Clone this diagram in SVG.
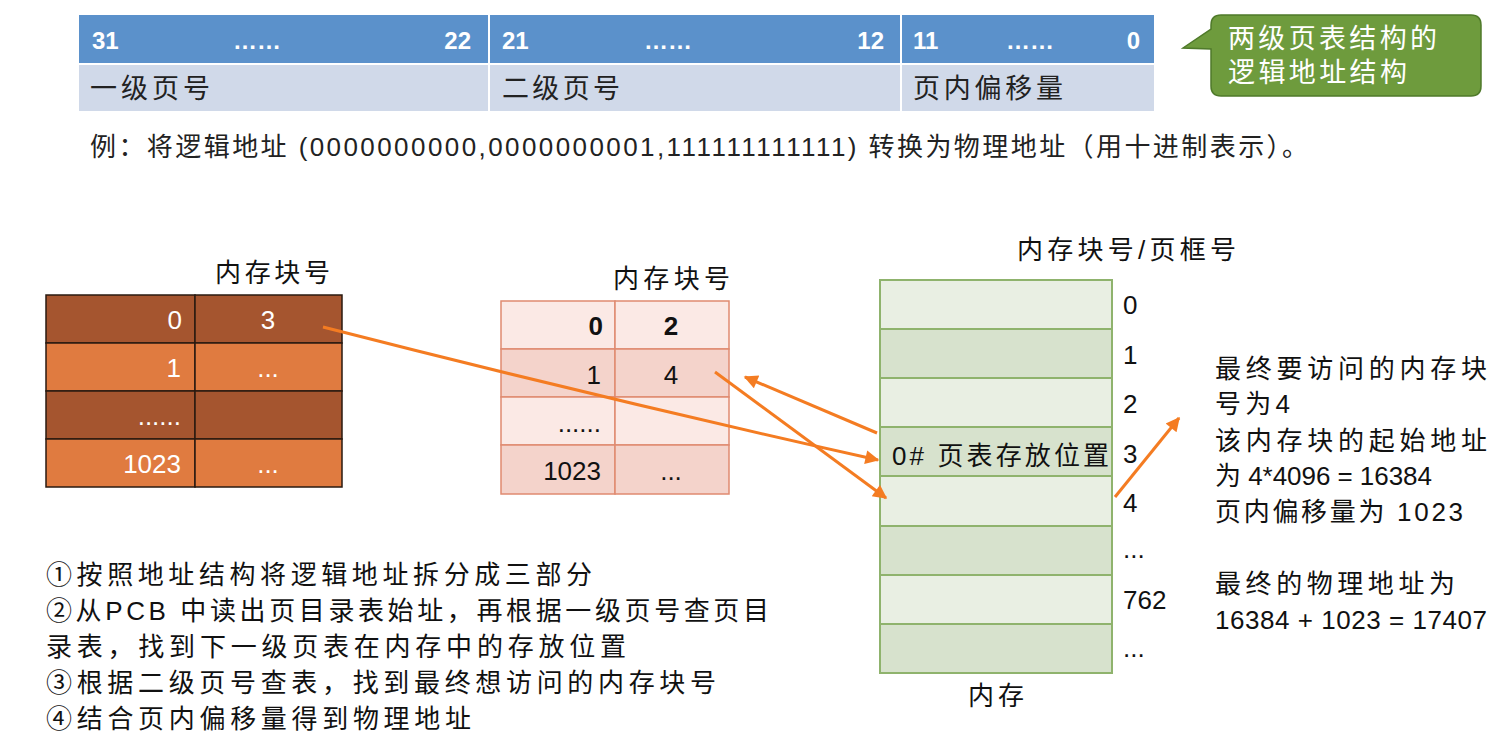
<svg xmlns="http://www.w3.org/2000/svg" width="1505" height="748" viewBox="0 0 1505 748">
<defs>
<style>
text{font-family:"Liberation Sans","Noto Sans CJK SC",sans-serif;fill:#222;}
.t26{font-size:26px;}
.t28{font-size:27px;}
.hd{font-size:24px;font-weight:bold;fill:#fff;}
.wt{font-size:26px;fill:#fff;}
.bk{font-size:26px;fill:#111;}
.bb{font-size:26px;fill:#111;font-weight:bold;}
.lab{font-size:26px;fill:#111;}
.conn{stroke:#f47c22;stroke-width:3;fill:none;}
.ld{fill:#a5552f;stroke:#2a1a10;stroke-width:1.5;}
.ll{fill:#e07b40;stroke:#2a1a10;stroke-width:1.5;}
.md{fill:#f4d3cb;stroke:#e08a70;stroke-width:1.5;}
.ml{fill:#fbe9e5;stroke:#e08a70;stroke-width:1.5;}
.gd{fill:#d7e2cd;stroke:#8fb36d;stroke-width:2;}
.gl{fill:#e9efe3;stroke:#8fb36d;stroke-width:2;}
</style>
<marker id="ah" viewBox="0 0 10 10" refX="9" refY="5" markerWidth="16" markerHeight="14" markerUnits="userSpaceOnUse" orient="auto">
<path d="M0,0 L10,5 L0,10 Z" fill="#f47c22"/>
</marker>
</defs>
<rect width="1505" height="748" fill="#fff"/>

<g id="addr-struct">
<rect x="79" y="15" width="409" height="48" fill="#5b91cb"/>
<rect x="490" y="15" width="410" height="48" fill="#5b91cb"/>
<rect x="902" y="15" width="252" height="48" fill="#5b91cb"/>
<rect x="79" y="65" width="409" height="46" fill="#d0d9e9"/>
<rect x="490" y="65" width="410" height="46" fill="#d0d9e9"/>
<rect x="902" y="65" width="252" height="46" fill="#d0d9e9"/>
<text class="hd" x="92" y="49">31</text>
<text class="hd" x="233" y="49">……</text>
<text class="hd" x="471" y="49" text-anchor="end">22</text>
<text class="hd" x="502" y="49">21</text>
<text class="hd" x="644" y="49">……</text>
<text class="hd" x="884" y="49" text-anchor="end">12</text>
<text class="hd" x="913" y="49">11</text>
<text class="hd" x="1006" y="49">……</text>
<text class="hd" x="1140" y="49" text-anchor="end">0</text>
<text class="t28" x="90" y="98" textLength="120">一级页号</text>
<text class="t28" x="502" y="98" textLength="118">二级页号</text>
<text class="t28" x="913" y="98" textLength="150">页内偏移量</text>
</g>

<g id="callout">
<path d="M1221,15 H1471 Q1481,15 1481,25 V86 Q1481,96 1471,96 H1221 Q1211,96 1211,86 V49 L1183,48 L1211,29 V25 Q1211,15 1221,15 Z" fill="#6e9b3d" stroke="#4f7a2a" stroke-width="1.5"/>
<text class="t28" x="1228" y="48" textLength="209" style="fill:#fff">两级页表结构的</text>
<text class="t28" x="1228" y="82" textLength="179" style="fill:#fff">逻辑地址结构</text>
</g>

<g id="example">
<text class="t26" x="90" y="156" textLength="1218">例：将逻辑地址 (0000000000,0000000001,111111111111) 转换为物理地址（用十进制表示）。</text>
</g>

<g id="page-dir">
<text class="lab" x="215" y="282" textLength="115">内存块号</text>
<rect class="ld" x="46" y="295" width="149" height="48"/>
<rect class="ld" x="195" y="295" width="147" height="48"/>
<rect class="ll" x="46" y="343" width="149" height="48"/>
<rect class="ll" x="195" y="343" width="147" height="48"/>
<rect class="ld" x="46" y="391" width="149" height="48"/>
<rect class="ld" x="195" y="391" width="147" height="48"/>
<rect class="ll" x="46" y="439" width="149" height="48"/>
<rect class="ll" x="195" y="439" width="147" height="48"/>
<text class="wt" x="182" y="329" text-anchor="end">0</text>
<text class="wt" x="268" y="329" text-anchor="middle">3</text>
<text class="wt" x="181" y="377" text-anchor="end">1</text>
<text class="wt" x="268" y="377" text-anchor="middle">...</text>
<text class="wt" x="181" y="425" text-anchor="end">......</text>
<text class="wt" x="181" y="473" text-anchor="end">1023</text>
<text class="wt" x="268" y="473" text-anchor="middle">...</text>
</g>

<g id="page-table">
<text class="lab" x="613" y="288" textLength="117">内存块号</text>
<rect class="ml" x="501" y="301" width="114" height="48"/>
<rect class="ml" x="615" y="301" width="114" height="48"/>
<rect class="md" x="501" y="349" width="114" height="48"/>
<rect class="md" x="615" y="349" width="114" height="48"/>
<rect class="ml" x="501" y="397" width="114" height="48"/>
<rect class="ml" x="615" y="397" width="114" height="48"/>
<rect class="md" x="501" y="445" width="114" height="49"/>
<rect class="md" x="615" y="445" width="114" height="49"/>
<text class="bb" x="603" y="335" text-anchor="end">0</text>
<text class="bb" x="671" y="335" text-anchor="middle">2</text>
<text class="bk" x="601" y="384" text-anchor="end">1</text>
<text class="bk" x="671" y="384" text-anchor="middle">4</text>
<text class="bk" x="601" y="432" text-anchor="end">......</text>
<text class="bk" x="601" y="480" text-anchor="end">1023</text>
<text class="bk" x="671" y="480" text-anchor="middle">...</text>
</g>

<g id="memory">
<text class="lab" x="1017" y="259" textLength="219">内存块号/页框号</text>
<rect class="gl" x="880" y="280" width="232" height="49"/>
<rect class="gd" x="880" y="329" width="232" height="49"/>
<rect class="gl" x="880" y="378" width="232" height="49"/>
<rect class="gd" x="880" y="427" width="232" height="49"/>
<rect class="gl" x="880" y="476" width="232" height="50"/>
<rect class="gd" x="880" y="526" width="232" height="49"/>
<rect class="gl" x="880" y="575" width="232" height="49"/>
<rect class="gd" x="880" y="624" width="232" height="49"/>
<text class="lab" x="892" y="465" textLength="217">0# 页表存放位置</text>
<text class="bk" x="1123" y="314">0</text>
<text class="bk" x="1123" y="364">1</text>
<text class="bk" x="1123" y="413">2</text>
<text class="bk" x="1123" y="463">3</text>
<text class="bk" x="1123" y="512">4</text>
<text class="bk" x="1123" y="558">...</text>
<text class="bk" x="1123" y="609">762</text>
<text class="bk" x="1123" y="657">...</text>
<text class="lab" x="968" y="705" textLength="56">内存</text>
</g>

<g id="connectors">
<path class="conn" marker-end="url(#ah)" d="M323,327 Q600,398 878,460"/>
<path class="conn" marker-end="url(#ah)" d="M877,433 L745,377"/>
<path class="conn" marker-end="url(#ah)" d="M715,372 L886,498"/>
<path class="conn" marker-end="url(#ah)" d="M1115,497 L1179,418"/>
</g>

<g id="result">
<text class="lab" x="1215" y="378" textLength="272">最终要访问的内存块</text>
<text class="lab" x="1215" y="413" textLength="75">号为4</text>
<text class="lab" x="1215" y="450" textLength="272">该内存块的起始地址</text>
<text class="lab" x="1215" y="485" textLength="217">为 4*4096 = 16384</text>
<text class="lab" x="1215" y="521" textLength="248">页内偏移量为 1023</text>
<text class="lab" x="1215" y="593" textLength="240">最终的物理地址为</text>
<text class="lab" x="1215" y="629" textLength="272">16384 + 1023 = 17407</text>
</g>

<g id="steps">
<text class="lab" x="46" y="584" textLength="546">①按照地址结构将逻辑地址拆分成三部分</text>
<text class="lab" x="46" y="620" textLength="723">②从PCB 中读出页目录表始址，再根据一级页号查页目</text>
<text class="lab" x="46" y="656" textLength="580">录表，找到下一级页表在内存中的存放位置</text>
<text class="lab" x="46" y="692" textLength="670">③根据二级页号查表，找到最终想访问的内存块号</text>
<text class="lab" x="46" y="728" textLength="425">④结合页内偏移量得到物理地址</text>
</g>
</svg>
